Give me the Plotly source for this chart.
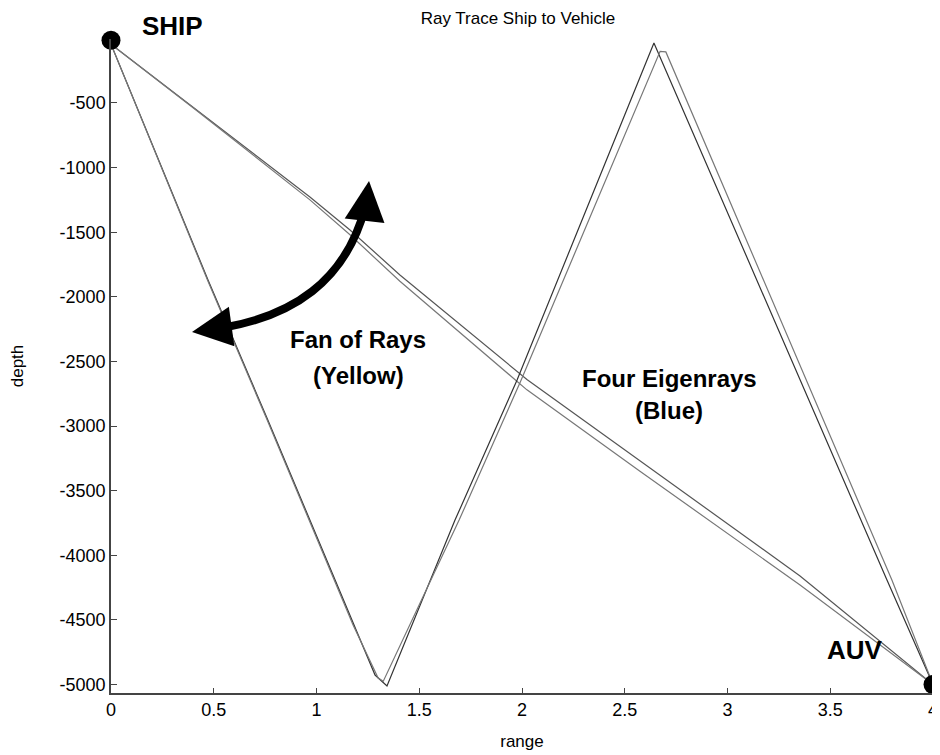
import plotly.graph_objects as go

# ---- data ----
# direct eigenrays (range, depth)
direct1_x = [0.0, 0.418, 0.968, 1.163, 1.406, 2.024, 2.574, 3.353, 4.0]
direct1_d = [-45, -554, -1228, -1483, -1831, -2640, -3270, -4160, -5000]
direct2_x = [0.0, 0.418, 0.968, 1.163, 1.406, 2.024, 2.574, 3.353, 4.0]
direct2_d = [-45, -560, -1250, -1520, -1880, -2720, -3350, -4230, -5000]

# bottom/surface-reflected eigenrays
bounce1_x = [0.0, 0.472, 0.759, 1.051, 1.178, 1.285, 1.343, 1.674, 1.976, 2.642, 3.776, 4.0]
bounce1_d = [-45, -1870, -2938, -4037, -4525, -4927, -5012, -3728, -2644, -36, -4192, -5000]
bounce2_x = [0.0, 0.472, 0.759, 1.051, 1.178, 1.300, 1.325, 1.694, 1.996, 2.672, 2.700, 3.800, 4.0]
bounce2_d = [-45, -1880, -2950, -4050, -4540, -4950, -4975, -3728, -2644, -100, -105, -4192, -5000]

ship_x, ship_d = [0.0], [-15]
auv_x, auv_d = [4.0], [-5000]

xticks = [0, 0.5, 1, 1.5, 2, 2.5, 3, 3.5, 4]
xtick_text = ["0", "0.5", "1", "1.5", "2", "2.5", "3", "3.5", "4"]
yticks = [-500, -1000, -1500, -2000, -2500, -3000, -3500, -4000, -4500, -5000]
ytick_text = [str(v) for v in yticks]

FONT = "Liberation Sans, Arial, Helvetica, sans-serif"

fig = go.Figure()
for xs, ds, col in [(direct1_x, direct1_d, "#555555"), (direct2_x, direct2_d, "#777777"),
                    (bounce1_x, bounce1_d, "#333333"), (bounce2_x, bounce2_d, "#777777")]:
    fig.add_trace(go.Scatter(x=xs, y=ds, mode="lines", line=dict(color=col, width=1.2),
                             showlegend=False, hoverinfo="skip"))

fig.add_trace(go.Scatter(x=ship_x, y=ship_d, mode="markers", cliponaxis=False,
                         marker=dict(color="black", size=19), showlegend=False))
fig.add_trace(go.Scatter(x=auv_x, y=auv_d, mode="markers", cliponaxis=False,
                         marker=dict(color="black", size=19), showlegend=False))

# page offset (browser body margin) compensation
OFF = 8
W, H = 940, 755
L, R, T, B = 111 - OFF, 940 - (933 - OFF), 39 - OFF, 755 - (693 - OFF)
pw, ph = W - L - R, H - T - B


def px(x):
    return (x - OFF - L) / pw


def py(y):
    return (H - B - (y - OFF)) / ph


# curved double-headed arrow (shaft)
path = "M {:.4f},{:.4f} C {:.4f},{:.4f} {:.4f},{:.4f} {:.4f},{:.4f}".format(
    px(222), py(328), px(292), py(316), px(345), py(282), px(365), py(208))
fig.add_shape(type="path", path=path, xref="paper", yref="paper",
              line=dict(color="black", width=8))

# arrow heads
fig.add_annotation(x=px(192), y=py(332), xref="paper", yref="paper", ax=36, ay=-5,
                   showarrow=True, arrowhead=2, arrowsize=1.0, arrowwidth=8,
                   arrowcolor="black", text="", standoff=0)
fig.add_annotation(x=px(369), y=py(181), xref="paper", yref="paper", ax=-4, ay=36,
                   showarrow=True, arrowhead=2, arrowsize=1.0, arrowwidth=8,
                   arrowcolor="black", text="", standoff=0)

labels = [("<b>SHIP</b>", 172, 26, 26), ("<b>AUV</b>", 855, 650, 26),
          ("<b>Fan of Rays</b>", 358, 339, 24), ("<b>(Yellow)</b>", 358, 375, 24),
          ("<b>Four Eigenrays</b>", 669, 378, 24), ("<b>(Blue)</b>", 669, 411, 24)]
for txt, lx, ly, fs in labels:
    fig.add_annotation(x=px(lx), y=py(ly), xref="paper", yref="paper", text=txt,
                       xanchor="center", yanchor="middle", showarrow=False,
                       font=dict(family=FONT, size=fs, color="black"))

fig.update_layout(
    width=W, height=H,
    margin=dict(l=L, r=R, t=T, b=B),
    paper_bgcolor="white", plot_bgcolor="white",
    title=dict(text="Ray Trace Ship to Vehicle", x=(518 - OFF) / W, xanchor="center",
               y=1 - 4 / H, yanchor="top",
               font=dict(family=FONT, size=17, color="black")),
    showlegend=False,
)
fig.update_xaxes(range=[0, 4], tickvals=xticks, ticktext=xtick_text, automargin=False,
                 ticks="inside", ticklen=5, tickcolor="#444", showline=True,
                 linecolor="#444", linewidth=1.5, showgrid=False, zeroline=False,
                 tickfont=dict(family=FONT, size=18, color="black"),
                 title=dict(text="range", font=dict(family=FONT, size=17, color="black"), standoff=16))
fig.update_yaxes(range=[-5066, -5], tickvals=yticks, ticktext=ytick_text, automargin=False,
                 ticks="inside", ticklen=6, tickcolor="#444", showline=True,
                 linecolor="#444", linewidth=1.5, showgrid=False, zeroline=False,
                 tickfont=dict(family=FONT, size=18, color="black"),
                 title=dict(text="depth", font=dict(family=FONT, size=17, color="black"), standoff=34))

fig.write_html("out.html")
